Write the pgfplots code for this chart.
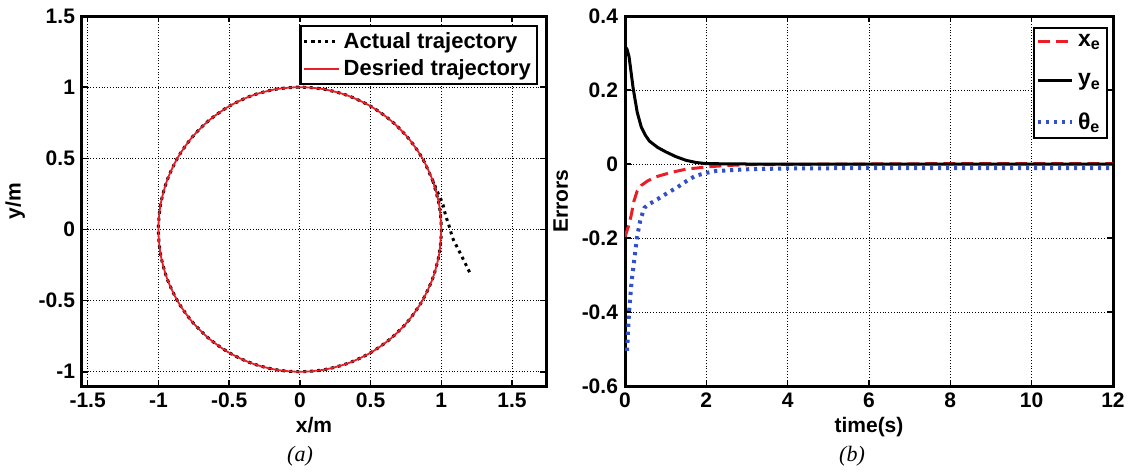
\documentclass[border=0pt]{standalone}
\usepackage{fontspec}
\setmainfont{Liberation Sans}
\newfontfamily\capfont{Liberation Serif}
\usepackage{pgfplots}
\pgfplotsset{compat=1.18}

\definecolor{matred}{RGB}{235,30,40}
\definecolor{matblue}{RGB}{50,80,200}

\pgfplotsset{
  panel/.style={
    scale only axis, height=185pt,
    axis line style={line width=1.5pt},
    tick style={black, line width=0.8pt}, major tick length=3pt, tick align=inside,
    grid=major, grid style={black, densely dotted, line width=0.5pt},
    ticklabel style={font=\fontsize{10.5}{12}\selectfont\bfseries},
    label style={font=\fontsize{10.5}{12}\selectfont\bfseries},
    xlabel style={yshift=2pt},
    /pgf/number format/assume math mode=true,
    legend cell align=left,
    legend style={font=\fontsize{11}{12}\selectfont\bfseries, draw=black, line width=1.2pt,
      inner sep=1pt},
  }
}

\begin{document}
\begin{tikzpicture}
\useasboundingbox (-41pt,-43.5pt) rectangle (525pt,193pt);

% (a) trajectory
\begin{axis}[panel, at={(0,0)}, anchor=south west,
  width=232pt,
  xmin=-1.54, xmax=1.74, ymin=-1.1, ymax=1.5,
  xtick={-1.5,-1,-0.5,0,0.5,1,1.5},
  ytick={-1,-0.5,0,0.5,1,1.5},
  xlabel={x/m}, ylabel={y/m},
  legend style={at={(1,1)}, anchor=north east, xshift=-4pt, yshift=-4.5pt},
]
\addplot[black, line width=1.5pt, dotted, smooth] coordinates {
  (1.2,-0.3) (1.16,-0.22) (1.12,-0.14) (1.08,-0.06) (1.06,0.01) (1.03,0.1)
  (1.01,0.18) (0.97,0.27) (0.9397,0.3420) (0.8660,0.5) (0.7660,0.6428)
  (0.6428,0.7660) (0.5,0.8660) (0.3420,0.9397) (0.1736,0.9848) (0,1)
  (-0.1736,0.9848) (-0.3420,0.9397) (-0.5,0.8660) (-0.6428,0.7660)
  (-0.7660,0.6428) (-0.8660,0.5) (-0.9397,0.3420) (-0.9848,0.1736) (-1,0)
  (-0.9848,-0.1736) (-0.9397,-0.3420) (-0.8660,-0.5) (-0.7660,-0.6428)
  (-0.6428,-0.7660) (-0.5,-0.8660) (-0.3420,-0.9397) (-0.1736,-0.9848) (0,-1)
  (0.1736,-0.9848) (0.3420,-0.9397) (0.5,-0.8660) (0.6428,-0.7660)
  (0.7660,-0.6428) (0.8660,-0.5) (0.9397,-0.3420) (0.9848,-0.1736) (1,0)
  (0.9848,0.1736) (0.9397,0.3420)
};
\addlegendentry{Actual trajectory}
\addplot[draw=matred, line width=0.9pt, smooth,
  legend image post style={draw=matred, line width=1.1pt}] coordinates {
  (1,0) (0.9848,0.1736) (0.9397,0.3420) (0.8660,0.5) (0.7660,0.6428)
  (0.6428,0.7660) (0.5,0.8660) (0.3420,0.9397) (0.1736,0.9848) (0,1)
  (-0.1736,0.9848) (-0.3420,0.9397) (-0.5,0.8660) (-0.6428,0.7660)
  (-0.7660,0.6428) (-0.8660,0.5) (-0.9397,0.3420) (-0.9848,0.1736) (-1,0)
  (-0.9848,-0.1736) (-0.9397,-0.3420) (-0.8660,-0.5) (-0.7660,-0.6428)
  (-0.6428,-0.7660) (-0.5,-0.8660) (-0.3420,-0.9397) (-0.1736,-0.9848) (0,-1)
  (0.1736,-0.9848) (0.3420,-0.9397) (0.5,-0.8660) (0.6428,-0.7660)
  (0.7660,-0.6428) (0.8660,-0.5) (0.9397,-0.3420) (0.9848,-0.1736) (1,0)
};
\addlegendentry{Desried trajectory}
\end{axis}

% (b) errors
\begin{axis}[panel, at={(271.5pt,0)}, anchor=south west,
  width=244pt,
  xmin=0, xmax=12, ymin=-0.6, ymax=0.4,
  xtick={0,2,4,6,8,10,12},
  ytick={-0.6,-0.4,-0.2,0,0.2,0.4},
  xlabel={time(s)}, ylabel={Errors},
  legend style={at={(1,1)}, anchor=north east, xshift=-2.5pt, yshift=-5.5pt,
    row sep=8pt, font=\fontsize{11.5}{13}\selectfont\bfseries},
]
\addplot[draw=matred, line width=1.5pt, dash pattern=on 6pt off 3pt] coordinates {
  (0,-0.197) (0.08,-0.17) (0.15,-0.14) (0.22,-0.1) (0.3,-0.073) (0.4,-0.058)
  (0.55,-0.046) (0.75,-0.035) (1.0,-0.027) (1.25,-0.02) (1.5,-0.014) (2.0,-0.008)
  (2.5,-0.004) (3,-0.002) (4,-0.001) (6,0) (8,0.001) (10,0.001) (12,0.001)
};
\addlegendentry{x\textsubscript{e}}
\addplot[black, line width=1.5pt] coordinates {
  (0,0.318) (0.05,0.31) (0.1,0.29) (0.2,0.205) (0.3,0.14) (0.4,0.1) (0.5,0.078)
  (0.6,0.062) (0.8,0.045) (1.0,0.033) (1.25,0.02) (1.5,0.01) (1.75,0.004)
  (2.0,0.001) (3,0) (12,0)
};
\addlegendentry{y\textsubscript{e}}
\addplot[draw=matblue, line width=2pt, dash pattern=on 1.6pt off 2.4pt] coordinates {
  (0.05,-0.505) (0.1,-0.4) (0.16,-0.32) (0.23,-0.257) (0.3,-0.195) (0.38,-0.15)
  (0.48,-0.118) (0.6,-0.108) (0.8,-0.095) (1.05,-0.078) (1.3,-0.062) (1.5,-0.047)
  (1.73,-0.032) (2.0,-0.024) (2.23,-0.019) (3.05,-0.014) (4,-0.012) (6,-0.011)
  (8,-0.011) (10,-0.011) (12,-0.011)
};
\addlegendentry{θ\textsubscript{e}}
\end{axis}

\node[font=\capfont\itshape\fontsize{11}{13}\selectfont] at (109pt,-35pt) {(a)};
\node[font=\capfont\itshape\fontsize{11}{13}\selectfont] at (385pt,-35pt) {(b)};
\end{tikzpicture}
\end{document}
